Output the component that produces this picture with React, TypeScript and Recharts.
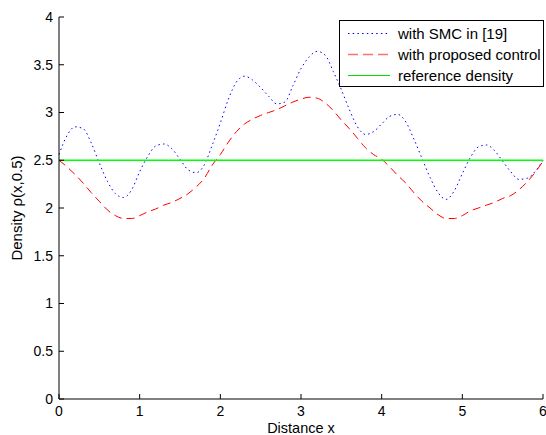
import React from 'react';
import { LineChart, Line, XAxis, YAxis, ReferenceLine, Label } from 'recharts';

// distance x (step 0.1)
const distance = [
  0, 0.1, 0.2, 0.3, 0.4, 0.5, 0.6, 0.7, 0.8, 0.9,
  1, 1.1, 1.2, 1.3, 1.4, 1.5, 1.6, 1.7, 1.8, 1.9,
  2, 2.1, 2.2, 2.3, 2.4, 2.5, 2.6, 2.7, 2.8, 2.9,
  3, 3.1, 3.2, 3.3, 3.4, 3.5, 3.6, 3.7, 3.8, 3.9,
  4, 4.1, 4.2, 4.3, 4.4, 4.5, 4.6, 4.7, 4.8, 4.9,
  5, 5.1, 5.2, 5.3, 5.4, 5.5, 5.6, 5.7, 5.8, 5.9,
  6,
];

// with SMC in [19]
const smcDensity = [
  2.56, 2.76, 2.85, 2.83, 2.68, 2.47, 2.28, 2.15, 2.11, 2.19,
  2.38, 2.54, 2.65, 2.67, 2.62, 2.51, 2.4, 2.37, 2.45, 2.66,
  2.89, 3.14, 3.32, 3.38, 3.34, 3.26, 3.17, 3.09, 3.11, 3.28,
  3.46, 3.58, 3.64, 3.6, 3.43, 3.24, 3.03, 2.85, 2.77, 2.8,
  2.88, 2.96, 2.98, 2.9, 2.72, 2.52, 2.32, 2.16, 2.09, 2.18,
  2.36, 2.53, 2.64, 2.66, 2.6, 2.49, 2.38, 2.3, 2.31, 2.38,
  2.5,
];

// with proposed control
const proposedDensity = [
  2.5, 2.43, 2.35, 2.26, 2.16, 2.07, 1.98, 1.92, 1.89, 1.89,
  1.92, 1.96, 1.99, 2.03, 2.06, 2.1, 2.15, 2.22, 2.31, 2.45,
  2.56, 2.69, 2.8, 2.88, 2.93, 2.97, 3.0, 3.03, 3.07, 3.11,
  3.14, 3.16, 3.15, 3.1, 3.02, 2.92, 2.83, 2.73, 2.63, 2.56,
  2.51, 2.43, 2.34, 2.26, 2.16, 2.07, 2.0, 1.93, 1.89, 1.89,
  1.92, 1.97, 2.0, 2.03, 2.06, 2.1, 2.13, 2.19, 2.27, 2.37,
  2.49,
];

const REF_DENSITY = 2.5;

const xTicks = [0, 1, 2, 3, 4, 5, 6];
const yTicks = [0, 0.5, 1, 1.5, 2, 2.5, 3, 3.5, 4];

const data = distance.map((x, i) => ({
  x,
  smc: smcDensity[i],
  proposed: proposedDensity[i],
}));

const FONT = '"Liberation Sans", Arial, Helvetica, sans-serif';

const legendItems = [
  { label: 'with SMC in [19]', color: '#0000ff', dash: '1.5 3.2', width: 1 },
  { label: 'with proposed control', color: '#ff7070', dash: '10 5', width: 1.3 },
  { label: 'reference density', color: '#00dd00', dash: undefined, width: 1 },
];

// boxed legend, drawn over the plot like the matlab one
const BoxLegend = () => (
  <svg width={205} height={67} style={{ position: 'absolute', left: 339, top: 20 }}>
    <rect x={0.5} y={0.5} width={204} height={66} fill="#fff" stroke="#000" strokeWidth={1} />
    {legendItems.map((item, i) => {
      const cy = 13.5 + i * 21;
      return (
        <g key={item.label}>
          <line x1={9} x2={51} y1={cy} y2={cy} stroke={item.color} strokeWidth={item.width} strokeDasharray={item.dash} />
          <text x={59} y={cy} dy="0.36em" fontSize={15} fontFamily={FONT} fill="#000">
            {item.label}
          </text>
        </g>
      );
    })}
  </svg>
);

const YLabel = ({ viewBox }: any) => {
  const cx = viewBox.x + 22;
  const cy = viewBox.y + viewBox.height / 2;
  return (
    <text
      transform={`translate(${cx},${cy}) rotate(-90)`}
      textAnchor="middle"
      fontSize={15}
      fontFamily={FONT}
      fill="#000"
    >
      Density ρ(x,0.5)
    </text>
  );
};

export default function App() {
  return (
    <div style={{ position: 'absolute', left: 0, top: 0, width: 546, height: 435, background: '#fff' }}>
      <LineChart width={546} height={435} data={data} margin={{ top: 17, right: 3, bottom: 0, left: 0 }}>
        <XAxis
          dataKey="x"
          type="number"
          domain={[0, 6]}
          ticks={xTicks}
          height={36}
          stroke="#000"
          tickSize={-5}
          tickMargin={12}
          tick={{ fill: '#000', fontSize: 14, fontFamily: FONT }}
          interval={0}
        >
          <Label value="Distance x" position="insideBottom" offset={2} fontSize={14.5} fontFamily={FONT} fill="#000" />
        </XAxis>
        <YAxis
          type="number"
          domain={[0, 4]}
          ticks={yTicks}
          width={59}
          stroke="#000"
          tickSize={-5}
          tickMargin={11}
          tick={{ fill: '#000', fontSize: 14, fontFamily: FONT }}
          interval={0}
        >
          <Label content={<YLabel />} />
        </YAxis>
        <Line
          type="monotone"
          dataKey="smc"
          stroke="#0000ff"
          strokeWidth={1}
          strokeDasharray="1.5 3.2"
          dot={false}
          isAnimationActive={false}
        />
        <Line
          type="monotone"
          dataKey="proposed"
          stroke="#ff0000"
          strokeWidth={1}
          strokeDasharray="8 5"
          dot={false}
          isAnimationActive={false}
        />
        <ReferenceLine y={REF_DENSITY} stroke="#00ff00" strokeWidth={1.6} />
      </LineChart>
      <BoxLegend />
    </div>
  );
}
